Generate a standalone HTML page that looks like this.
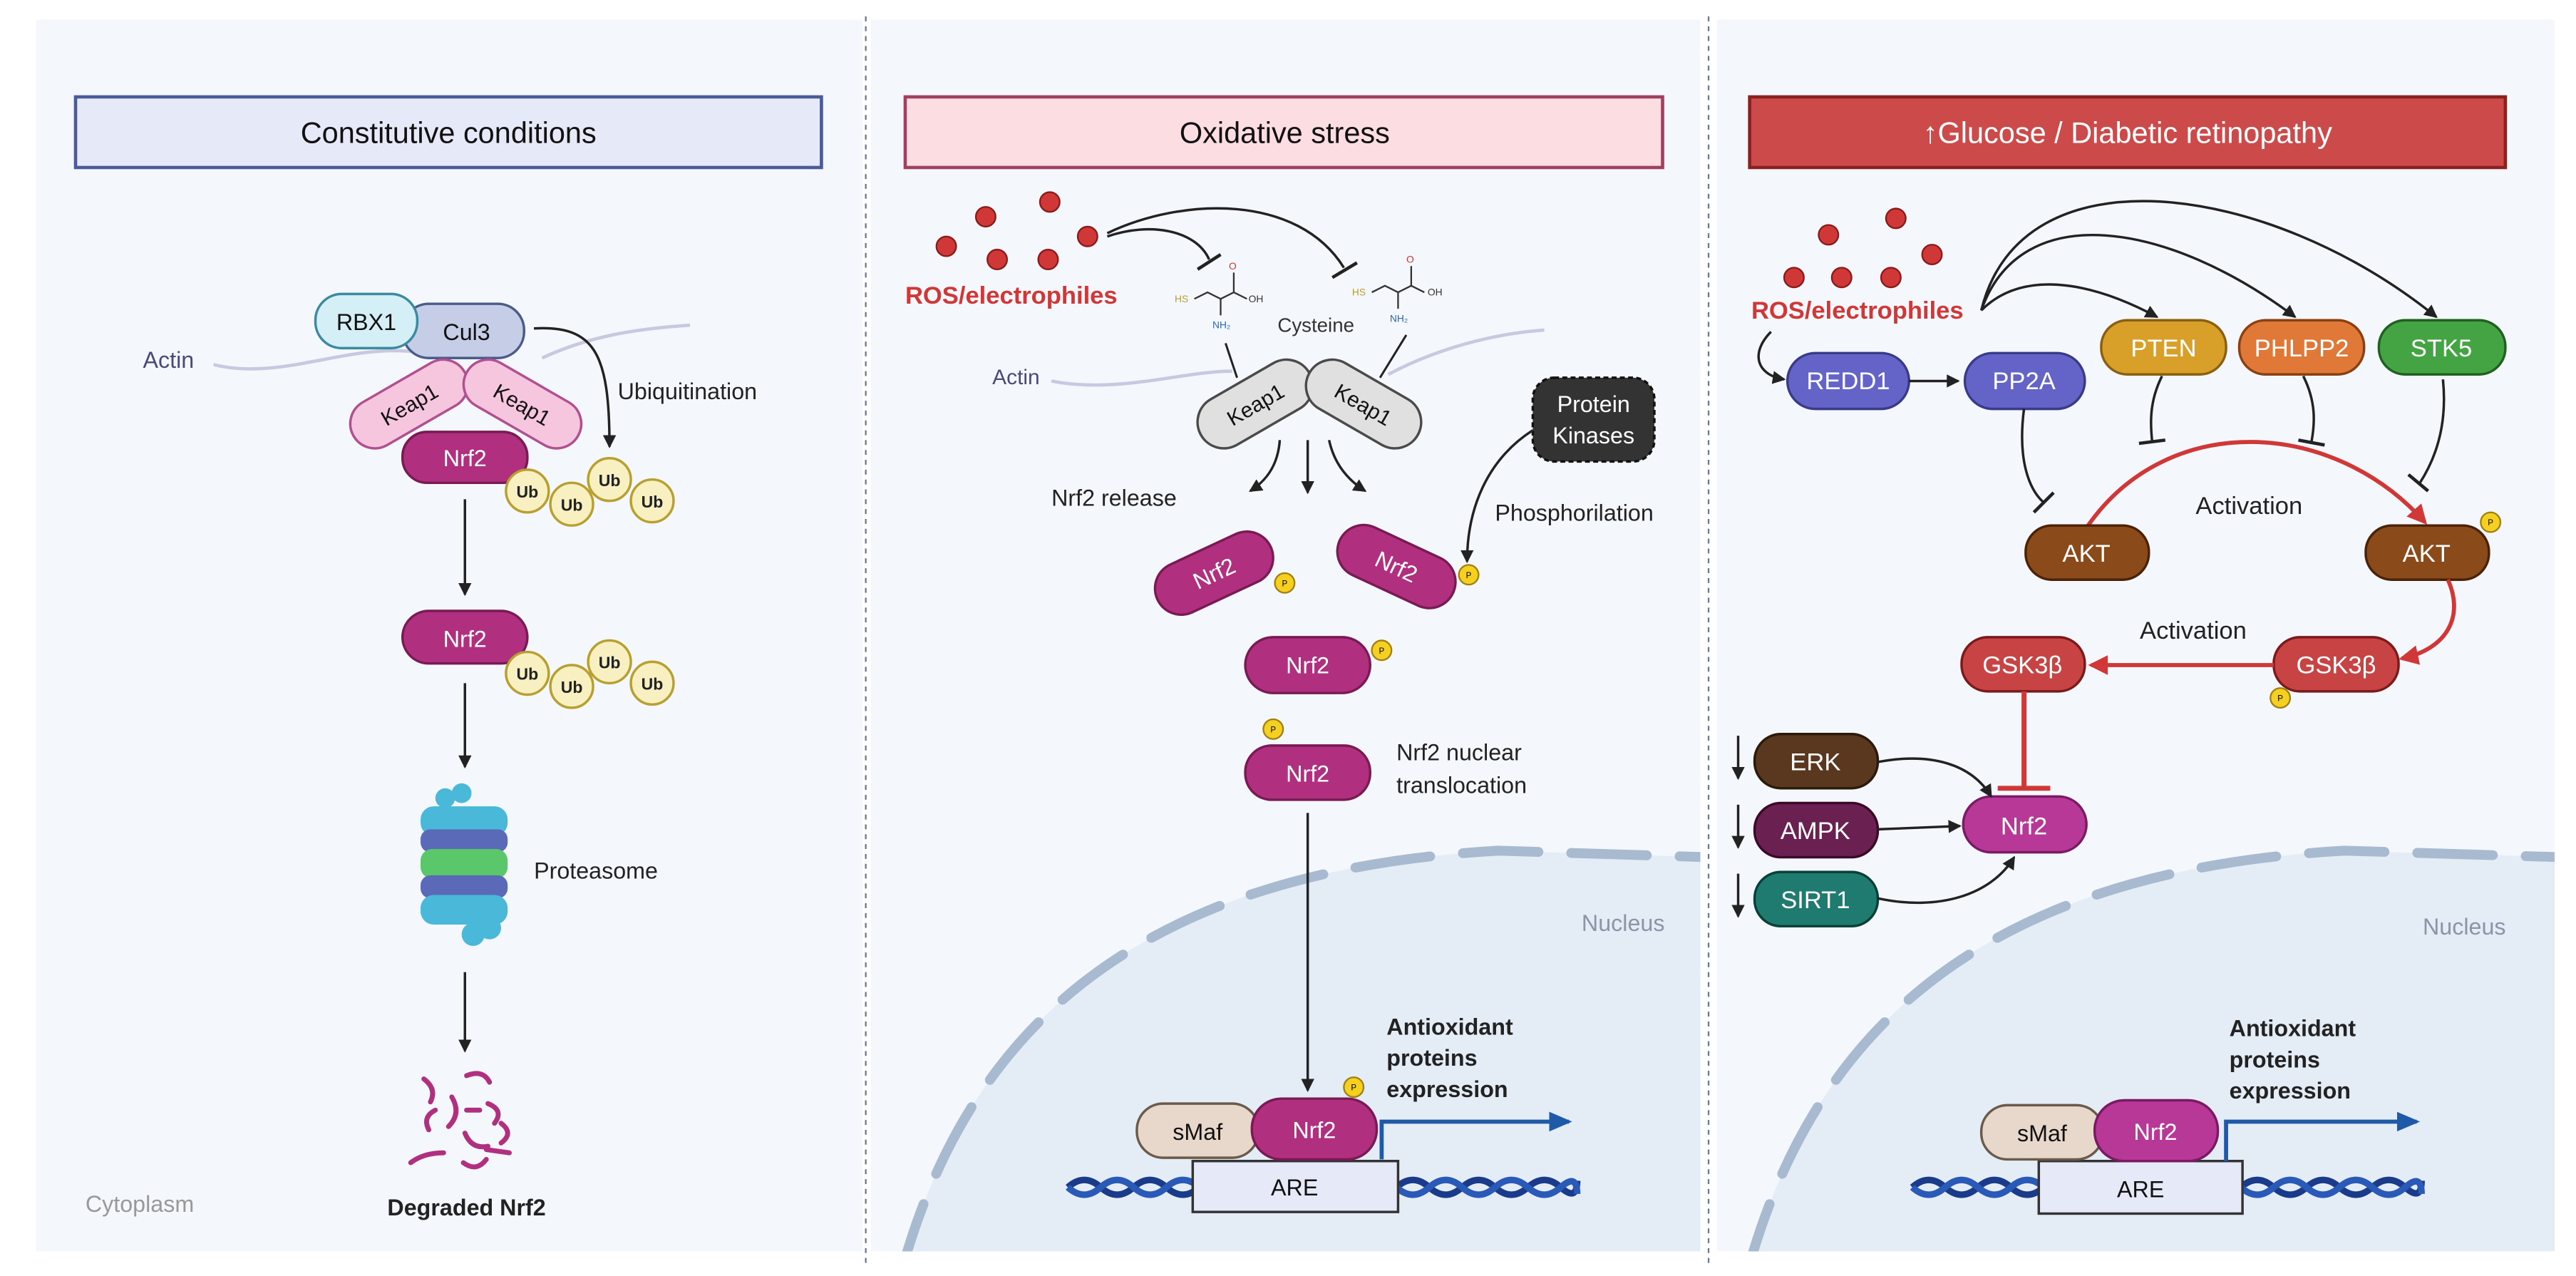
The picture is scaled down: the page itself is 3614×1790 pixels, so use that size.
<!DOCTYPE html>
<html><head><meta charset="utf-8"><style>
html,body{margin:0;padding:0;background:#fff;overflow:hidden;width:3614px;height:1790px;}
svg{display:block;}
text{font-family:"Liberation Sans",sans-serif;}
</style></head><body>
<svg width="3614" height="1790" viewBox="0 0 1568 777" preserveAspectRatio="none" xmlns="http://www.w3.org/2000/svg">
<defs>
<marker id="ab" markerWidth="8" markerHeight="8" refX="7" refY="4" orient="auto" markerUnits="userSpaceOnUse"><path d="M0,0 L8,4 L0,8 Z" fill="#222"/></marker>
<marker id="ar" markerWidth="12" markerHeight="12" refX="10" refY="6" orient="auto" markerUnits="userSpaceOnUse"><path d="M0,0 L12,6 L0,12 Z" fill="#d03838"/></marker>
<marker id="abl" markerWidth="14" markerHeight="12" refX="12" refY="6" orient="auto" markerUnits="userSpaceOnUse"><path d="M0,0 L14,6 L0,12 Z" fill="#1f5aa8"/></marker>
<clipPath id="c2"><rect x="530" y="12" width="505" height="750"/></clipPath>
<clipPath id="c3"><rect x="1045" y="12" width="510" height="750"/></clipPath>
<g id="dna">
<path d="M0,0 q10,-9 20,0 t20,0 t20,0 t20,0 t20,0 t20,0 t20,0 t20,0 t20,0 t20,0 t20,0 t20,0 t20,0 t20,0 t20,0 t10,-4" fill="none" stroke="#1a3a8a" stroke-width="4"/>
<path d="M0,0 q10,9 20,0 t20,0 t20,0 t20,0 t20,0 t20,0 t20,0 t20,0 t20,0 t20,0 t20,0 t20,0 t20,0 t20,0 t20,0 t10,4" fill="none" stroke="#2a5ab8" stroke-width="4"/>
</g>
</defs>
<rect x="22" y="12" width="503" height="750" fill="#f4f7fb"/>
<rect x="530" y="12" width="505" height="750" fill="#f4f7fb"/>
<rect x="1045" y="12" width="510" height="750" fill="#f4f7fb"/>
<line x1="527" y1="10" x2="527" y2="770" stroke="#6a7a9a" stroke-width="1" stroke-dasharray="3,3"/>
<line x1="1040" y1="10" x2="1040" y2="770" stroke="#6a7a9a" stroke-width="1" stroke-dasharray="3,3"/>

<rect x="46" y="59" width="454" height="43" fill="#e6eaf8" stroke="#4a5a9a" stroke-width="2"/>
<text x="273" y="87" font-size="18" text-anchor="middle" fill="#111">Constitutive conditions</text>
<rect x="551" y="59" width="461" height="43" fill="#fcdde2" stroke="#a04060" stroke-width="2"/>
<text x="782" y="87" font-size="18" text-anchor="middle" fill="#111">Oxidative stress</text>
<rect x="1065" y="59" width="460" height="43" fill="#cd4a4a" stroke="#8a2020" stroke-width="2"/>
<text x="1295" y="87" font-size="18" text-anchor="middle" fill="#fff">↑Glucose / Diabetic retinopathy</text>

<!-- Panel 1 -->
<path d="M130,222 C170,232 210,210 250,214" fill="none" stroke="#c8c8e0" stroke-width="2"/>
<path d="M330,218 C360,204 390,200 420,198" fill="none" stroke="#c8c8e0" stroke-width="2"/>
<text x="87" y="224" font-size="14" fill="#4a4a7a">Actin</text>
<rect x="245" y="185" width="74" height="33" rx="16" fill="#c6cde6" stroke="#4a5a8a" stroke-width="1.5"/>
<text x="284" y="207" font-size="14" text-anchor="middle" fill="#111">Cul3</text>
<rect x="192" y="179" width="62" height="33" rx="16" fill="#d5eff7" stroke="#3a8aa0" stroke-width="1.5"/>
<text x="223" y="201" font-size="14" text-anchor="middle" fill="#111">RBX1</text>
<g transform="translate(249,246) rotate(-30)"><rect x="-39" y="-15" width="78" height="30" rx="15" fill="#f6c6df" stroke="#b05090" stroke-width="1.5"/><text y="5" font-size="13" text-anchor="middle" fill="#111">Keap1</text></g>
<g transform="translate(318,246) rotate(30)"><rect x="-39" y="-15" width="78" height="30" rx="15" fill="#f6c6df" stroke="#b05090" stroke-width="1.5"/><text y="5" font-size="13" text-anchor="middle" fill="#111">Keap1</text></g>
<rect x="245" y="263" width="76" height="31" rx="15" fill="#b0307f" stroke="#7a1a55" stroke-width="1.5"/>
<text x="283" y="284" font-size="14" text-anchor="middle" fill="#fff">Nrf2</text>
<path d="M325,200 C362,198 371,215 371,272" fill="none" stroke="#222" stroke-width="1.5" marker-end="url(#ab)"/>
<text x="376" y="243" font-size="14" fill="#222">Ubiquitination</text>
<g font-size="10" font-weight="bold" text-anchor="middle" fill="#222">
<circle cx="321" cy="299" r="13" fill="#f8f0c0" stroke="#b8a030" stroke-width="1.5"/><text x="321" y="303">Ub</text>
<circle cx="348" cy="307" r="13" fill="#f8f0c0" stroke="#b8a030" stroke-width="1.5"/><text x="348" y="311">Ub</text>
<circle cx="371" cy="292" r="13" fill="#f8f0c0" stroke="#b8a030" stroke-width="1.5"/><text x="371" y="296">Ub</text>
<circle cx="397" cy="305" r="13" fill="#f8f0c0" stroke="#b8a030" stroke-width="1.5"/><text x="397" y="309">Ub</text>
</g>
<line x1="283" y1="304" x2="283" y2="362" stroke="#222" stroke-width="1.5" marker-end="url(#ab)"/>
<rect x="245" y="372" width="76" height="32" rx="16" fill="#b0307f" stroke="#7a1a55" stroke-width="1.5"/>
<text x="283" y="394" font-size="14" text-anchor="middle" fill="#fff">Nrf2</text>
<g font-size="10" font-weight="bold" text-anchor="middle" fill="#222">
<circle cx="321" cy="410" r="13" fill="#f8f0c0" stroke="#b8a030" stroke-width="1.5"/><text x="321" y="414">Ub</text>
<circle cx="348" cy="418" r="13" fill="#f8f0c0" stroke="#b8a030" stroke-width="1.5"/><text x="348" y="422">Ub</text>
<circle cx="371" cy="403" r="13" fill="#f8f0c0" stroke="#b8a030" stroke-width="1.5"/><text x="371" y="407">Ub</text>
<circle cx="397" cy="416" r="13" fill="#f8f0c0" stroke="#b8a030" stroke-width="1.5"/><text x="397" y="420">Ub</text>
</g>
<line x1="283" y1="416" x2="283" y2="467" stroke="#222" stroke-width="1.5" marker-end="url(#ab)"/>
<g>
<circle cx="271" cy="486" r="6" fill="#4ab8d8"/><circle cx="281" cy="483" r="6" fill="#4ab8d8"/>
<rect x="256" y="491" width="53" height="18" rx="8" fill="#4ab8d8"/>
<rect x="256" y="505" width="53" height="14" rx="6" fill="#5a6ab8"/>
<rect x="256" y="517" width="53" height="18" rx="7" fill="#5ac86a"/>
<rect x="256" y="533" width="53" height="14" rx="6" fill="#5a6ab8"/>
<rect x="256" y="545" width="53" height="18" rx="8" fill="#4ab8d8"/>
<circle cx="288" cy="569" r="7" fill="#4ab8d8"/><circle cx="298" cy="565" r="7" fill="#4ab8d8"/>
</g>
<text x="325" y="535" font-size="14" fill="#222">Proteasome</text>
<line x1="283" y1="592" x2="283" y2="640" stroke="#222" stroke-width="1.5" marker-end="url(#ab)"/>
<g fill="none" stroke="#b0307f" stroke-width="3" stroke-linecap="round">
<path d="M258,657 q8,6 4,14"/><path d="M265,676 q-8,4 -4,12"/><path d="M275,668 q6,10 -2,18"/><path d="M284,655 q10,-4 14,4"/><path d="M297,672 q10,4 4,12"/><path d="M270,702 q-12,0 -20,6"/><path d="M283,690 q4,10 14,8"/><path d="M305,684 q8,6 0,12"/><path d="M282,708 q8,6 14,-2"/><path d="M296,700 l14,2"/><path d="M284,676 l8,0"/>
</g>
<text x="284" y="740" font-size="14" font-weight="bold" text-anchor="middle" fill="#222">Degraded Nrf2</text>
<text x="52" y="738" font-size="14" fill="#999">Cytoplasm</text>

<!-- Panel 2 -->
<g clip-path="url(#c2)">
<path d="M548,777 C590,620 700,530 912,518 L1040,522 L1040,777 Z" fill="#e4ecf6"/>
<path d="M548,777 C590,620 700,530 912,518 L1040,522" fill="none" stroke="#a8bacf" stroke-width="6" stroke-dasharray="46,20" stroke-linecap="round"/>
</g>
<text x="988" y="567" font-size="14" fill="#8a96a6" text-anchor="middle">Nucleus</text>
<g fill="#d03838" stroke="#8a1a1a" stroke-width="1">
<circle cx="576" cy="150" r="6"/><circle cx="600" cy="132" r="6"/><circle cx="639" cy="123" r="6"/><circle cx="662" cy="144" r="6"/><circle cx="607" cy="158" r="6"/><circle cx="638" cy="158" r="6"/>
</g>
<text x="551" y="185" font-size="15" font-weight="bold" fill="#d03838">ROS/electrophiles</text>
<path d="M674,144 C700,135 728,140 736,158" fill="none" stroke="#222" stroke-width="1.5"/>
<line x1="729" y1="164" x2="743" y2="155" stroke="#222" stroke-width="2"/>
<path d="M674,142 C720,120 790,118 818,163" fill="none" stroke="#222" stroke-width="1.5"/>
<line x1="811" y1="169" x2="826" y2="160" stroke="#222" stroke-width="2"/>
<g font-size="6" fill="#333">
<path d="M727,182 l8,-4 l8,4 l8,-4 l8,4 M751,178 l0,-12 M743,182 l0,10" fill="none" stroke="#333" stroke-width="1"/>
<text x="715" y="184" fill="#b8a030">HS</text><text x="760" y="184">OH</text><text x="748" y="164" fill="#d03838">O</text><text x="738" y="200" fill="#2a6ab8">NH₂</text>
<path d="M835,178 l8,-4 l8,4 l8,-4 l8,4 M859,174 l0,-12 M851,178 l0,10" fill="none" stroke="#333" stroke-width="1"/>
<text x="823" y="180" fill="#b8a030">HS</text><text x="869" y="180">OH</text><text x="856" y="160" fill="#d03838">O</text><text x="846" y="196" fill="#2a6ab8">NH₂</text>
</g>
<text x="801" y="202" font-size="12" fill="#333" text-anchor="middle">Cysteine</text>
<path d="M640,232 C680,240 720,226 750,226" fill="none" stroke="#c8c8e0" stroke-width="2"/>
<path d="M845,228 C875,212 910,203 940,201" fill="none" stroke="#c8c8e0" stroke-width="2"/>
<text x="604" y="234" font-size="13" fill="#4a4a7a">Actin</text>
<line x1="746" y1="209" x2="753" y2="230" stroke="#222" stroke-width="1.3"/>
<line x1="856" y1="204" x2="840" y2="230" stroke="#222" stroke-width="1.3"/>
<g transform="translate(764,246) rotate(-30)"><rect x="-38" y="-16" width="76" height="32" rx="16" fill="#e0e0e0" stroke="#4a4a4a" stroke-width="1.5"/><text y="5" font-size="13" text-anchor="middle" fill="#111">Keap1</text></g>
<g transform="translate(830,246) rotate(30)"><rect x="-38" y="-16" width="76" height="32" rx="16" fill="#e0e0e0" stroke="#4a4a4a" stroke-width="1.5"/><text y="5" font-size="13" text-anchor="middle" fill="#111">Keap1</text></g>
<path d="M779,268 C778,282 772,292 761,299" fill="none" stroke="#222" stroke-width="1.5" marker-end="url(#ab)"/>
<line x1="796" y1="268" x2="796" y2="300" stroke="#222" stroke-width="1.5" marker-end="url(#ab)"/>
<path d="M809,268 C812,282 820,292 831,299" fill="none" stroke="#222" stroke-width="1.5" marker-end="url(#ab)"/>
<text x="640" y="308" font-size="14" fill="#222">Nrf2 release</text>
<rect x="933" y="230" width="74" height="51" rx="13" fill="#333" stroke="#111" stroke-width="1.5" stroke-dasharray="3,2"/>
<text x="970" y="251" font-size="14" fill="#fff" text-anchor="middle">Protein</text>
<text x="970" y="270" font-size="14" fill="#fff" text-anchor="middle">Kinases</text>
<path d="M933,262 C905,280 893,310 893,342" fill="none" stroke="#222" stroke-width="1.5" marker-end="url(#ab)"/>
<text x="910" y="317" font-size="14" fill="#222">Phosphorilation</text>
<g transform="translate(739,349) rotate(-25)"><rect x="-38" y="-16" width="76" height="32" rx="16" fill="#b0307f" stroke="#7a1a55" stroke-width="1.5"/><text y="5" font-size="14" text-anchor="middle" fill="#fff">Nrf2</text></g>
<circle cx="782" cy="355" r="6" fill="#f5d020" stroke="#a08010"/><text x="782" y="357" font-size="5" text-anchor="middle">P</text>
<g transform="translate(850,345) rotate(25)"><rect x="-38" y="-16" width="76" height="32" rx="16" fill="#b0307f" stroke="#7a1a55" stroke-width="1.5"/><text y="5" font-size="14" text-anchor="middle" fill="#fff">Nrf2</text></g>
<circle cx="894" cy="350" r="6" fill="#f5d020" stroke="#a08010"/><text x="894" y="352" font-size="5" text-anchor="middle">P</text>
<rect x="758" y="388" width="76" height="34" rx="17" fill="#b0307f" stroke="#7a1a55" stroke-width="1.5"/>
<text x="796" y="410" font-size="14" text-anchor="middle" fill="#fff">Nrf2</text>
<circle cx="841" cy="396" r="6" fill="#f5d020" stroke="#a08010"/><text x="841" y="398" font-size="5" text-anchor="middle">P</text>
<rect x="758" y="454" width="76" height="33" rx="16" fill="#b0307f" stroke="#7a1a55" stroke-width="1.5"/>
<text x="796" y="476" font-size="14" text-anchor="middle" fill="#fff">Nrf2</text>
<circle cx="775" cy="444" r="6" fill="#f5d020" stroke="#a08010"/><text x="775" y="446" font-size="5" text-anchor="middle">P</text>
<text x="850" y="463" font-size="14" fill="#222">Nrf2 nuclear</text>
<text x="850" y="483" font-size="14" fill="#222">translocation</text>
<line x1="796" y1="495" x2="796" y2="664" stroke="#222" stroke-width="1.5" marker-end="url(#ab)"/>
<use href="#dna" x="650" y="723"/>
<rect x="726" y="707" width="125" height="31" fill="#e6eaf8" stroke="#333" stroke-width="1.5"/>
<text x="788" y="728" font-size="14" text-anchor="middle" fill="#111">ARE</text>
<rect x="692" y="672" width="74" height="33" rx="16" fill="#e8d8cc" stroke="#6a5a4a" stroke-width="1.5"/>
<text x="729" y="694" font-size="14" text-anchor="middle" fill="#111">sMaf</text>
<rect x="762" y="669" width="76" height="37" rx="18" fill="#b0307f" stroke="#7a1a55" stroke-width="1.5"/>
<text x="800" y="693" font-size="14" text-anchor="middle" fill="#fff">Nrf2</text>
<circle cx="824" cy="662" r="6" fill="#f5d020" stroke="#a08010"/><text x="824" y="664" font-size="5" text-anchor="middle">P</text>
<path d="M841,706 L841,683 L955,683" fill="none" stroke="#1f5aa8" stroke-width="2.5" marker-end="url(#abl)"/>
<g font-size="14" font-weight="bold" fill="#222"><text x="844" y="630">Antioxidant</text><text x="844" y="649">proteins</text><text x="844" y="668">expression</text></g>

<!-- Panel 3 -->
<g clip-path="url(#c3)">
<path d="M1063,777 C1105,620 1215,530 1427,518 L1560,522 L1560,777 Z" fill="#e4ecf6"/>
<path d="M1063,777 C1105,620 1215,530 1427,518 L1560,522" fill="none" stroke="#a8bacf" stroke-width="6" stroke-dasharray="46,20" stroke-linecap="round"/>
</g>
<text x="1500" y="569" font-size="14" fill="#8a96a6" text-anchor="middle">Nucleus</text>
<g fill="#d03838" stroke="#8a1a1a" stroke-width="1">
<circle cx="1113" cy="143" r="6"/><circle cx="1154" cy="133" r="6"/><circle cx="1176" cy="155" r="6"/><circle cx="1092" cy="169" r="6"/><circle cx="1121" cy="169" r="6"/><circle cx="1151" cy="169" r="6"/>
</g>
<text x="1066" y="194" font-size="15" font-weight="bold" fill="#d03838">ROS/electrophiles</text>
<path d="M1206,189 C1230,165 1270,170 1313,193" fill="none" stroke="#222" stroke-width="1.5" marker-end="url(#ab)"/>
<path d="M1206,189 C1230,120 1320,135 1397,193" fill="none" stroke="#222" stroke-width="1.5" marker-end="url(#ab)"/>
<path d="M1206,189 C1230,90 1380,110 1483,193" fill="none" stroke="#222" stroke-width="1.5" marker-end="url(#ab)"/>
<path d="M1078,202 C1066,214 1068,228 1086,231" fill="none" stroke="#222" stroke-width="1.5" marker-end="url(#ab)"/>
<g font-size="15" text-anchor="middle" fill="#fff">
<rect x="1088" y="215" width="74" height="34" rx="17" fill="#6464c8" stroke="#3a3a8a" stroke-width="1.5"/><text x="1125" y="237">REDD1</text>
<rect x="1196" y="215" width="73" height="34" rx="17" fill="#6464c8" stroke="#3a3a8a" stroke-width="1.5"/><text x="1232" y="237">PP2A</text>
<rect x="1279" y="195" width="76" height="33" rx="16" fill="#d8a028" stroke="#8a6010" stroke-width="1.5"/><text x="1317" y="217">PTEN</text>
<rect x="1363" y="195" width="76" height="33" rx="16" fill="#e07838" stroke="#8a4010" stroke-width="1.5"/><text x="1401" y="217">PHLPP2</text>
<rect x="1448" y="195" width="77" height="33" rx="16" fill="#44a444" stroke="#206020" stroke-width="1.5"/><text x="1486" y="217">STK5</text>
</g>
<line x1="1162" y1="232" x2="1192" y2="232" stroke="#222" stroke-width="1.5" marker-end="url(#ab)"/>
<path d="M1232,249 C1228,280 1235,298 1244,306" fill="none" stroke="#222" stroke-width="1.5"/><line x1="1238" y1="312" x2="1250" y2="300" stroke="#222" stroke-width="2"/>
<path d="M1316,229 C1308,245 1309,258 1310,269" fill="none" stroke="#222" stroke-width="1.5"/><line x1="1302" y1="270" x2="1318" y2="268" stroke="#222" stroke-width="2"/>
<path d="M1402,229 C1410,245 1409,258 1407,269" fill="none" stroke="#222" stroke-width="1.5"/><line x1="1399" y1="268" x2="1415" y2="271" stroke="#222" stroke-width="2"/>
<path d="M1487,231 C1490,260 1482,280 1473,294" fill="none" stroke="#222" stroke-width="1.5"/><line x1="1466" y1="289" x2="1478" y2="299" stroke="#222" stroke-width="2"/>
<path d="M1271,320 C1320,250 1420,255 1476,318" fill="none" stroke="#d03838" stroke-width="2.5" marker-end="url(#ar)"/>
<text x="1369" y="313" font-size="15" fill="#222" text-anchor="middle">Activation</text>
<g font-size="15" text-anchor="middle" fill="#fff">
<rect x="1233" y="320" width="75" height="33" rx="16" fill="#8a4a1a" stroke="#4a2208" stroke-width="1.5"/><text x="1270" y="342">AKT</text>
<rect x="1440" y="320" width="75" height="33" rx="16" fill="#8a4a1a" stroke="#4a2208" stroke-width="1.5"/><text x="1477" y="342">AKT</text>
<rect x="1194" y="388" width="75" height="33" rx="16" fill="#c84444" stroke="#7a1a1a" stroke-width="1.5"/><text x="1231" y="410">GSK3β</text>
<rect x="1384" y="388" width="76" height="33" rx="16" fill="#c84444" stroke="#7a1a1a" stroke-width="1.5"/><text x="1422" y="410">GSK3β</text>
</g>
<circle cx="1516" cy="318" r="6" fill="#f5d020" stroke="#a08010"/><text x="1516" y="320" font-size="5" text-anchor="middle">P</text>
<circle cx="1388" cy="425" r="6" fill="#f5d020" stroke="#a08010"/><text x="1388" y="427" font-size="5" text-anchor="middle">P</text>
<path d="M1490,353 C1500,375 1490,395 1462,401" fill="none" stroke="#d03838" stroke-width="2.5" marker-end="url(#ar)"/>
<line x1="1384" y1="405" x2="1273" y2="405" stroke="#d03838" stroke-width="2.5" marker-end="url(#ar)"/>
<text x="1335" y="389" font-size="15" fill="#222" text-anchor="middle">Activation</text>
<line x1="1232" y1="421" x2="1232" y2="480" stroke="#d03838" stroke-width="3"/>
<line x1="1216" y1="480" x2="1248" y2="480" stroke="#d03838" stroke-width="3"/>
<g font-size="15" text-anchor="middle" fill="#fff">
<rect x="1195" y="485" width="75" height="34" rx="17" fill="#b83898" stroke="#7a1a65" stroke-width="1.5"/><text x="1232" y="508">Nrf2</text>
<rect x="1068" y="447" width="75" height="33" rx="16" fill="#5a3820" stroke="#2a1a08" stroke-width="1.5"/><text x="1105" y="469">ERK</text>
<rect x="1068" y="489" width="75" height="33" rx="16" fill="#6a2050" stroke="#3a0a28" stroke-width="1.5"/><text x="1105" y="511">AMPK</text>
<rect x="1068" y="531" width="75" height="33" rx="16" fill="#1f7a70" stroke="#0a4038" stroke-width="1.5"/><text x="1105" y="553">SIRT1</text>
</g>
<g stroke="#222" stroke-width="1.5">
<line x1="1058" y1="448" x2="1058" y2="474" marker-end="url(#ab)"/>
<line x1="1058" y1="490" x2="1058" y2="516" marker-end="url(#ab)"/>
<line x1="1058" y1="532" x2="1058" y2="558" marker-end="url(#ab)"/>
</g>
<path d="M1143,464 C1175,458 1200,465 1212,485" fill="none" stroke="#222" stroke-width="1.5" marker-end="url(#ab)"/>
<line x1="1143" y1="505" x2="1193" y2="503" stroke="#222" stroke-width="1.5" marker-end="url(#ab)"/>
<path d="M1143,547 C1180,555 1212,545 1226,522" fill="none" stroke="#222" stroke-width="1.5" marker-end="url(#ab)"/>
<use href="#dna" x="1164" y="723"/>
<rect x="1241" y="707" width="124" height="32" fill="#e6eaf8" stroke="#333" stroke-width="1.5"/>
<text x="1303" y="729" font-size="14" text-anchor="middle" fill="#111">ARE</text>
<rect x="1206" y="673" width="74" height="33" rx="16" fill="#e8d8cc" stroke="#6a5a4a" stroke-width="1.5"/>
<text x="1243" y="695" font-size="14" text-anchor="middle" fill="#111">sMaf</text>
<rect x="1275" y="670" width="75" height="37" rx="18" fill="#b83898" stroke="#7a1a65" stroke-width="1.5"/>
<text x="1312" y="694" font-size="14" text-anchor="middle" fill="#fff">Nrf2</text>
<path d="M1355,707 L1355,683 L1471,683" fill="none" stroke="#1f5aa8" stroke-width="2.5" marker-end="url(#abl)"/>
<g font-size="14" font-weight="bold" fill="#222"><text x="1357" y="631">Antioxidant</text><text x="1357" y="650">proteins</text><text x="1357" y="669">expression</text></g>
</svg>
</body></html>
